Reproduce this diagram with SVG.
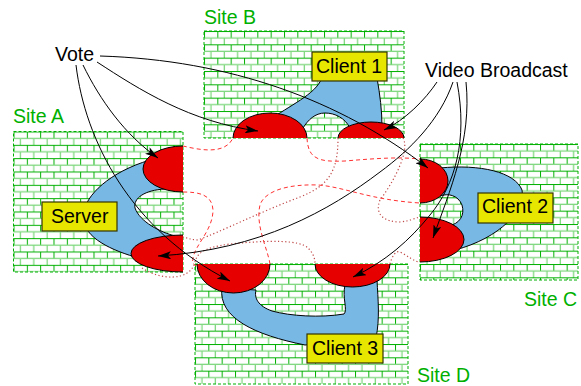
<svg xmlns="http://www.w3.org/2000/svg" width="581" height="386" viewBox="0 0 581 386">
<defs>
<pattern id="brick" patternUnits="userSpaceOnUse" width="13.333" height="13.333">
<rect width="13.333" height="13.333" fill="#ffffff"/>
<line x1="0" y1="0.5" x2="13.333" y2="0.5" stroke="#00b000" stroke-width="1"/>
<line x1="0.5" y1="0" x2="0.5" y2="6.667" stroke="#00b000" stroke-width="1"/>
<line x1="0" y1="7" x2="13.333" y2="7" stroke="#80d880" stroke-width="1.3"/>
<line x1="7" y1="6.667" x2="7" y2="13.333" stroke="#80d880" stroke-width="1.3"/>
</pattern>
<marker id="ah" markerUnits="userSpaceOnUse" markerWidth="14" markerHeight="8" refX="13" refY="4" orient="auto">
<path d="M0,0 L13,4 L0,8 L3,4 Z" fill="#000"/>
</marker>
<style>
.site{fill:url(#brick);stroke:#00b000;stroke-width:1;stroke-dasharray:3 2}
.slabel{font-family:"Liberation Sans",Arial,sans-serif;font-size:19.5px;fill:#00b000}
.lbl{font-family:"Liberation Sans",Arial,sans-serif;font-size:19.5px;fill:#000}
.blue{fill:#78b8e4;stroke:#000;stroke-width:1}
.red{fill:#e60000;stroke:#000;stroke-width:1}
.box{fill:#e6e600;stroke:#333300;stroke-width:1.2}
.dash{fill:none;stroke:#ff3030;stroke-width:1;stroke-dasharray:4 3}
.dot{fill:none;stroke:#c04848;stroke-width:1.2;stroke-dasharray:1.2 2.4}
.arr{fill:none;stroke:#000;stroke-width:1;marker-end:url(#ah)}
</style>
</defs>

<g id="siteA">
<g transform="translate(13.5,131.5)"><rect class="site" x="0" y="0" width="169.5" height="140.5"/></g>
<text class="slabel" x="13" y="123">Site A</text>
</g>
<g id="siteB">
<g transform="translate(204,31)"><rect class="site" x="0" y="0" width="200" height="107"/></g>
<text class="slabel" x="204" y="24">Site B</text>
</g>
<g id="siteC">
<g transform="translate(420,144)"><rect class="site" x="0" y="0" width="158" height="136"/></g>
<text class="slabel" x="524" y="306">Site C</text>
</g>
<g id="siteD">
<g transform="translate(195,264)"><rect class="site" x="0" y="0" width="213" height="120"/></g>
<text class="slabel" x="417" y="382">Site D</text>
</g>

<g id="tubes">
<path class="blue" d="M 150 160 C 110 172, 85 195, 83 215 C 82 235, 105 248, 135 257 L 175 236 C 160 232, 140 222, 135 208 C 133 198, 145 190, 165 189 Z"/>
<path class="blue" d="M 268 121 C 290 105, 315 95, 322 78 L 377 78 C 380 95, 382 110, 382 128 L 350 128 C 345 118, 335 113, 325 113 C 315 113, 308 120, 303 128 Z"/>
<path class="blue" d="M 440 168 C 480 164, 515 172, 522 190 C 526 210, 500 238, 455 250 L 448 226 C 460 224, 465 215, 462 205 C 458 195, 448 193, 440 196 Z"/>
<path class="blue" d="M 222 288 C 218 318, 255 335, 305 345 L 376 338 C 380 318, 378 300, 377 280 L 345 285 C 342 298, 348 310, 344 314 C 320 318, 290 316, 272 311 C 258 306, 254 298, 256 290 Z"/>
</g>

<g id="ports">
<path class="red" d="M 233 138 A 37 25 0 0 1 307 138"/>
<path class="red" d="M 338 138 A 33 16 0 0 1 404 138"/>
<path class="red" d="M 183 146 A 40 23 0 0 0 183 192"/>
<path class="red" d="M 183 235 A 52 18.5 0 0 0 183 272"/>
<path class="red" d="M 420 159 A 28 22 0 0 1 420 203"/>
<path class="red" d="M 420 217 A 44 22.5 0 0 1 420 262"/>
<path class="red" d="M 197 264 A 36.5 29 0 0 0 270 264"/>
<path class="red" d="M 315 264 A 37.5 23 0 0 0 390 264"/>
</g>

<g id="server"><rect class="box" x="42" y="202" width="75" height="29"/><text class="lbl" x="51" y="223">Server</text></g>
<g id="client1"><rect class="box" x="312" y="52" width="75" height="29"/><text class="lbl" x="316" y="73">Client 1</text></g>
<g id="client2"><rect class="box" x="478" y="193" width="75" height="30"/><text class="lbl" x="482" y="213">Client 2</text></g>
<g id="client3"><rect class="box" x="307" y="334" width="76" height="29"/><text class="lbl" x="312" y="355">Client 3</text></g>

<g id="links">
<path class="dash" d="M 183 146 C 200 150, 225 155, 233 138"/>
<path class="dash" d="M 183 192 C 200 192, 212 195, 213 210 C 213 230, 195 245, 193 258 C 192 262, 193 265, 197 266"/>
<path class="dash" d="M 270 264 C 268 250, 255 225, 260 205 C 265 190, 290 184, 318 185 C 345 187, 370 200, 420 203"/>
<path class="dash" d="M 307 138 C 308 160, 320 162, 345 161 C 380 158, 400 157, 420 159"/>
<path class="dot" d="M 338 138 C 338 170, 330 185, 300 197 C 260 212, 220 232, 198 240 C 192 240, 188 238, 183 237"/>
<path class="dot" d="M 403 138 C 410 150, 395 180, 380 200 C 374 215, 385 222, 400 222 C 410 221, 415 218, 420 217"/>
<path class="dot" d="M 390 264 C 392 256, 396 250, 400 252 C 408 256, 415 262, 420 262"/>
<path class="dot" d="M 142 268 C 160 280, 190 282, 195 262 C 197 255, 200 248, 230 244 C 270 240, 300 240, 308 248 C 313 253, 315 258, 315 264"/>
</g>

<g id="connectors">
<path class="arr" d="M 100 56 C 230 60, 340 100, 428 168"/>
<path class="arr" d="M 97 62 C 140 90, 190 122, 258 131"/>
<path class="arr" d="M 83 65 C 100 100, 125 135, 158 158"/>
<path class="arr" d="M 76 65 C 85 140, 130 230, 230 281"/>
<path class="arr" d="M 437 82 C 425 100, 405 120, 384 130"/>
<path class="arr" d="M 453 82 C 440 120, 410 150, 380 172 C 330 210, 260 250, 158 256"/>
<path class="arr" d="M 457 82 C 468 140, 455 185, 430 215 C 410 240, 385 262, 353 277"/>
<path class="arr" d="M 466 82 C 472 140, 450 190, 433 238"/>
</g>

<text class="lbl" x="55" y="61">Vote</text>
<text class="lbl" x="425" y="77">Video Broadcast</text>
</svg>
